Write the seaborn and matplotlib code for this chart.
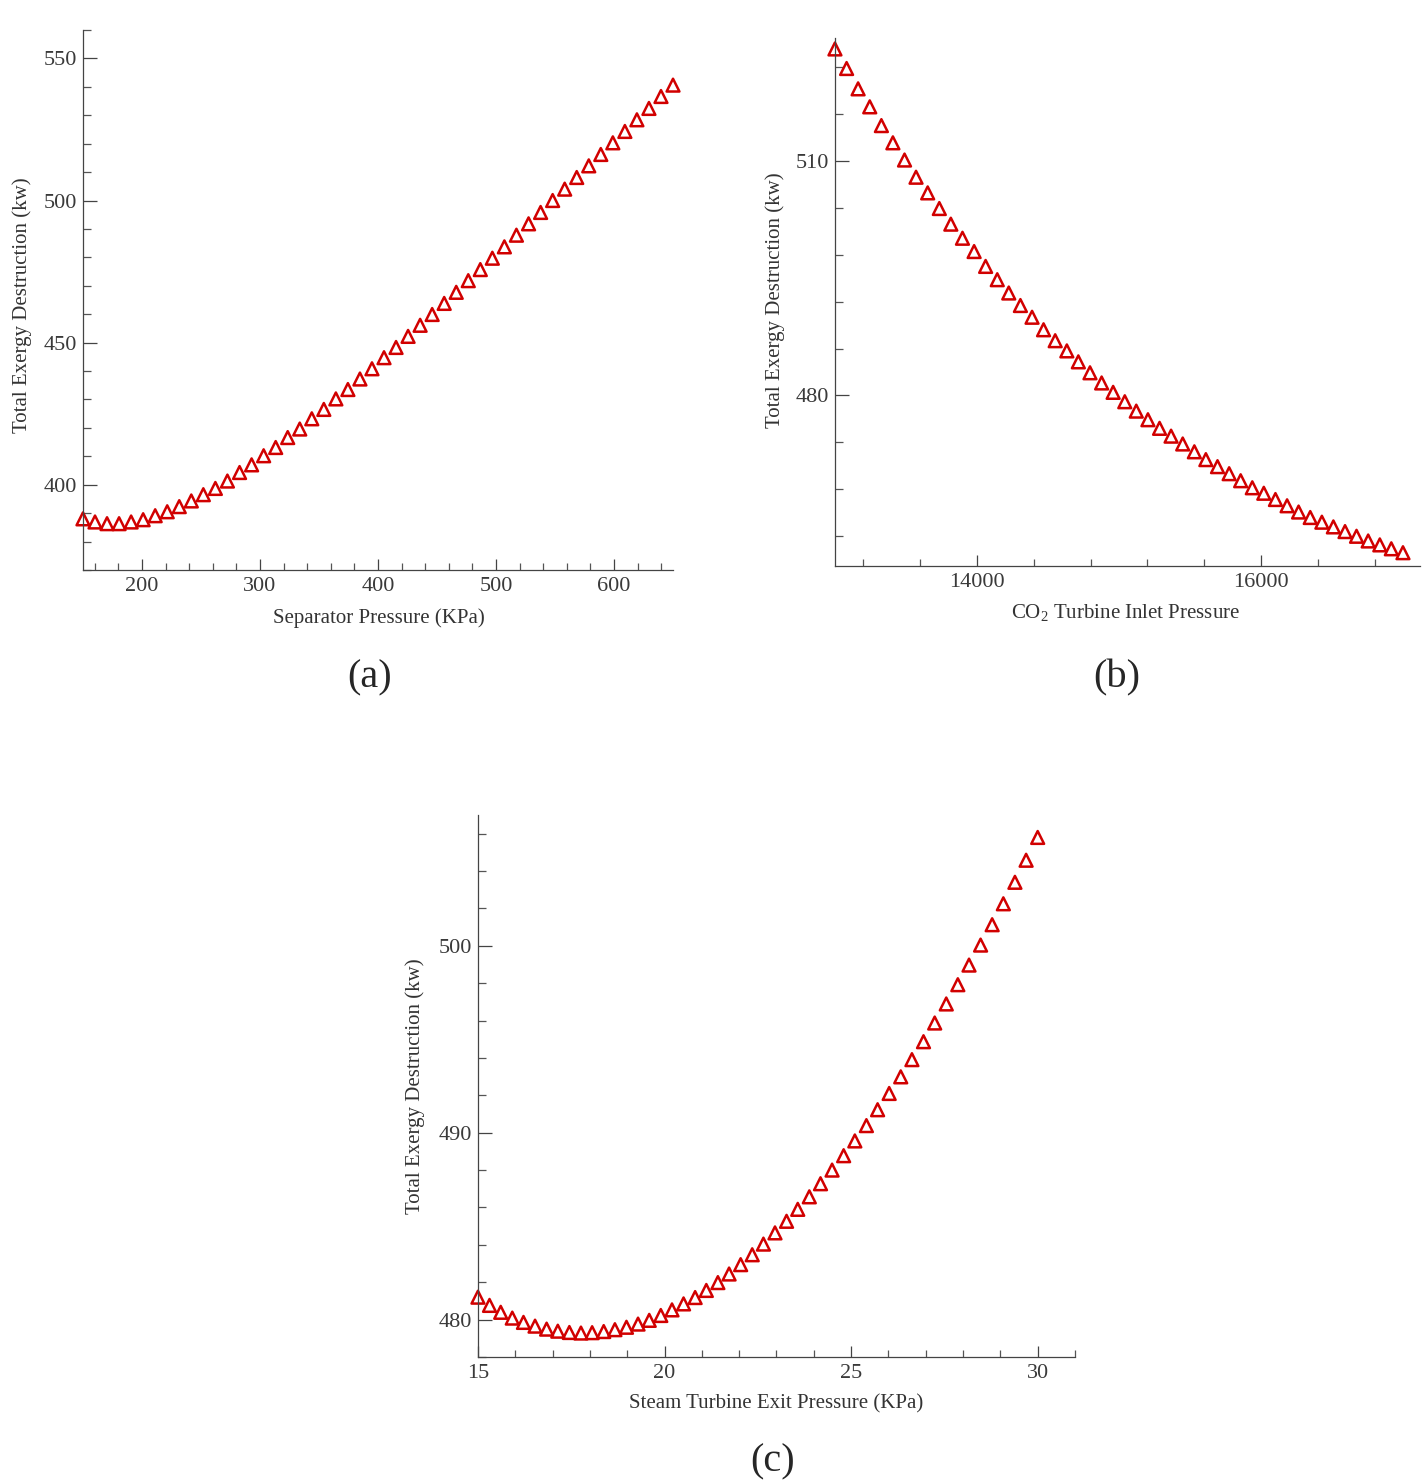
import numpy as np
import pandas as pd
import seaborn as sns
import matplotlib.pyplot as plt
from matplotlib.ticker import MultipleLocator

sns.set_style("ticks")
plt.rcParams['font.family'] = ['Liberation Serif', 'DejaVu Serif']
plt.rcParams['mathtext.fontset'] = 'custom'
plt.rcParams['mathtext.rm'] = 'Liberation Serif'
plt.rcParams['mathtext.it'] = 'Liberation Serif:italic'

# (a) separator pressure sweep
sep_p = [150.0, 160.2, 170.4, 180.6, 190.8, 201.0, 211.2, 221.4, 231.6, 241.8,
         252.0, 262.2, 272.4, 282.7, 292.9, 303.1, 313.3, 323.5, 333.7, 343.9,
         354.1, 364.3, 374.5, 384.7, 394.9, 405.1, 415.3, 425.5, 435.7, 445.9,
         456.1, 466.3, 476.5, 486.7, 496.9, 507.1, 517.3, 527.6, 537.8, 548.0,
         558.2, 568.4, 578.6, 588.8, 599.0, 609.2, 619.4, 629.6, 639.8, 650.0]
ed_a = [388.0, 386.9, 386.3, 386.3, 386.9, 387.7, 389.1, 390.5, 392.3, 394.3,
        396.5, 398.7, 401.3, 404.3, 407.0, 410.2, 413.1, 416.6, 419.6, 423.2,
        426.5, 430.2, 433.5, 437.2, 440.8, 444.7, 448.3, 452.2, 456.1, 459.9,
        463.8, 467.7, 471.8, 475.7, 479.7, 483.7, 487.8, 491.8, 495.8, 500.0,
        504.0, 508.1, 512.2, 516.2, 520.3, 524.3, 528.4, 532.4, 536.6, 540.6]

# (b) CO2 turbine inlet pressure sweep
co2_p = [13000, 13082, 13163, 13245, 13327, 13408, 13490, 13571, 13653, 13735,
         13816, 13898, 13980, 14061, 14143, 14224, 14306, 14388, 14469, 14551,
         14633, 14714, 14796, 14878, 14959, 15041, 15122, 15204, 15286, 15367,
         15449, 15531, 15612, 15694, 15776, 15857, 15939, 16020, 16102, 16184,
         16265, 16347, 16429, 16510, 16592, 16673, 16755, 16837, 16918, 17000]
ed_b = [524.3, 521.8, 519.2, 516.9, 514.5, 512.3, 510.1, 507.9, 505.9, 503.9,
        501.9, 500.1, 498.4, 496.5, 494.8, 493.1, 491.5, 490.0, 488.4, 487.0,
        485.7, 484.3, 482.9, 481.6, 480.4, 479.2, 478.0, 476.9, 475.8, 474.8,
        473.8, 472.8, 471.8, 470.9, 470.0, 469.1, 468.2, 467.5, 466.7, 465.9,
        465.1, 464.4, 463.8, 463.2, 462.6, 462.0, 461.4, 460.9, 460.4, 459.9]

# (c) steam turbine exit pressure sweep
st_p = [15.00, 15.31, 15.61, 15.92, 16.22, 16.53, 16.84, 17.14, 17.45, 17.76,
        18.06, 18.37, 18.67, 18.98, 19.29, 19.59, 19.90, 20.20, 20.51, 20.82,
        21.12, 21.43, 21.73, 22.04, 22.35, 22.65, 22.96, 23.27, 23.57, 23.88,
        24.18, 24.49, 24.80, 25.10, 25.41, 25.71, 26.02, 26.33, 26.63, 26.94,
        27.24, 27.55, 27.86, 28.16, 28.47, 28.78, 29.08, 29.39, 29.69, 30.00]
ed_c = [481.20, 480.76, 480.39, 480.08, 479.85, 479.65, 479.49, 479.38, 479.31, 479.28,
        479.30, 479.36, 479.46, 479.59, 479.76, 479.96, 480.22, 480.52, 480.84, 481.18,
        481.56, 481.98, 482.44, 482.94, 483.47, 484.04, 484.64, 485.26, 485.90, 486.57,
        487.27, 488.00, 488.77, 489.56, 490.38, 491.23, 492.10, 492.99, 493.91, 494.87,
        495.87, 496.89, 497.92, 498.97, 500.04, 501.13, 502.25, 503.40, 504.58, 505.80]

ylab = "Total Exergy Destruction (kw)"
red = "#d10000"

fig = plt.figure(figsize=(14.28, 14.84), dpi=100)
ax_a = fig.add_axes([0.0581, 0.6159, 0.4132, 0.3639])
ax_b = fig.add_axes([0.5847, 0.6186, 0.4097, 0.3558])
ax_c = fig.add_axes([0.3347, 0.0856, 0.4181, 0.3652])

panels = [
    (ax_a, sep_p, ed_a, "Separator Pressure (KPa)", (150, 650), (370, 560), 100, 20, 50, 10),
    (ax_b, co2_p, ed_b, r"CO$_2$ Turbine Inlet Pressure", (13000, 17120), (458.2, 525.7), 2000, 400, 30, 6),
    (ax_c, st_p, ed_c, "Steam Turbine Exit Pressure (KPa)", (15, 31), (478.0, 507.0), 5, 1, 10, 2),
]

for ax, x, y, xlab, xl, yl, xmaj, xmin, ymaj, ymin in panels:
    df = pd.DataFrame({"x": x, "y": y})
    sns.scatterplot(data=df, x="x", y="y", ax=ax, marker="^", s=85,
                    facecolors="none", edgecolor=red, linewidth=1.8, clip_on=False)
    ax.set_xlim(*xl)
    ax.set_ylim(*yl)
    ax.xaxis.set_major_locator(MultipleLocator(xmaj))
    ax.xaxis.set_minor_locator(MultipleLocator(xmin))
    ax.yaxis.set_major_locator(MultipleLocator(ymaj))
    ax.yaxis.set_minor_locator(MultipleLocator(ymin))
    ax.tick_params(axis="y", which="major", direction="in", length=10, width=0.9,
                   color="#444444", labelsize=16, labelcolor="#3a3a3a", pad=4)
    ax.tick_params(axis="y", which="minor", direction="in", length=6, width=0.9, color="#555555")
    ax.tick_params(axis="x", which="major", direction="in", length=8, width=0.9,
                   color="#444444", labelsize=16, labelcolor="#3a3a3a", pad=5)
    ax.tick_params(axis="x", which="minor", direction="in", length=5, width=0.9, color="#555555")
    sns.despine(ax=ax)
    for s in ("left", "bottom"):
        ax.spines[s].set_color("#444444")
        ax.spines[s].set_linewidth(0.9)
    ax.set_xlabel(xlab, fontsize=15, color="#333333")
    ax.set_ylabel(ylab, fontsize=15, color="#333333")

ax_a.yaxis.set_label_coords(-0.086, 0.49)
ax_a.xaxis.set_label_coords(0.502, -0.070)
ax_b.yaxis.set_label_coords(-0.086, 0.504)
ax_b.xaxis.set_label_coords(0.496, -0.068)
ax_c.yaxis.set_label_coords(-0.088, 0.50)
ax_c.xaxis.set_label_coords(0.50, -0.068)

fig.text(370 / 1428, 1 - 678 / 1484, "(a)", fontsize=29, ha="center", va="center")
fig.text(1117 / 1428, 1 - 678 / 1484, "(b)", fontsize=29, ha="center", va="center")
fig.text(773 / 1428, 1 - 1462 / 1484, "(c)", fontsize=29, ha="center", va="center")

fig.savefig("out.png", dpi=100, facecolor="white")
